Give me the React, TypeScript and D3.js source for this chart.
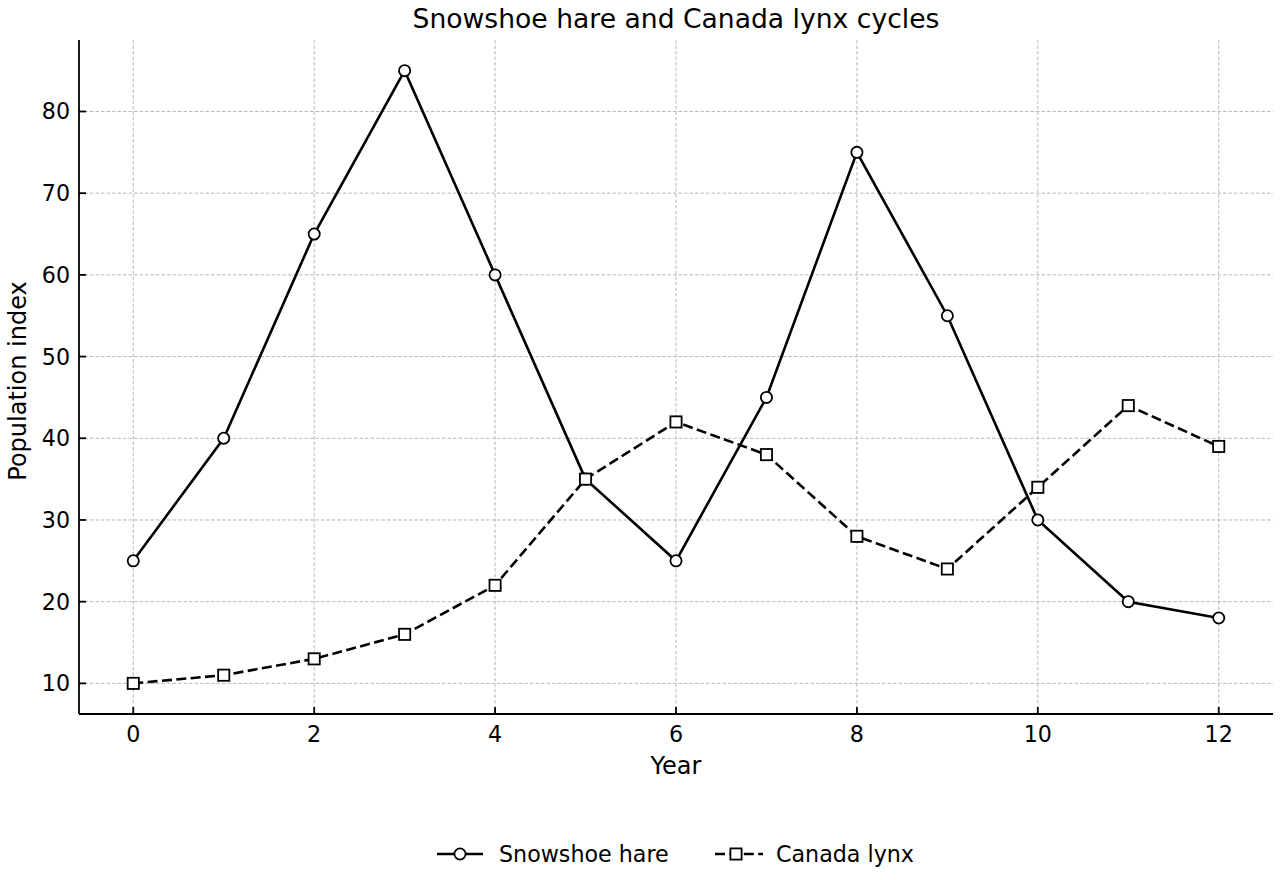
import { line, range, scaleLinear } from "d3"

const years = range(0, 13)
const hare = [25, 40, 65, 85, 60, 35, 25, 45, 75, 55, 30, 20, 18]
const lynx = [10, 11, 13, 16, 22, 35, 42, 38, 28, 24, 34, 44, 39]
const xTicks = [0, 2, 4, 6, 8, 10, 12]
const yTicks = [10, 20, 30, 40, 50, 60, 70, 80]

const W = 1280
const H = 880
const left = 79
const right = 1273
const top = 40
const bottom = 714
const font = "'DejaVu Sans', sans-serif"
const dash = "10,4.4"

const App = () => {
    const x = scaleLinear().domain([-0.6, 12.6]).range([left, right])
    const y = scaleLinear().domain([6.25, 88.75]).range([bottom, top])

    const path = (vals: number[]) =>
        line<number>().x((_, i) => x(years[i])).y(d => y(d))(vals) || ""

    return (
        <svg width={W} height={H} style={{ display: "block", position: "absolute", left: 0, top: 0 }}>
            <rect width={W} height={H} fill="white" />
            <g stroke="#b0b0b0" strokeWidth={0.9} strokeDasharray="3.5,2">
                {xTicks.map(t => <line key={"gx" + t} x1={x(t)} x2={x(t)} y1={top} y2={bottom} />)}
                {yTicks.map(t => <line key={"gy" + t} x1={left} x2={right} y1={y(t)} y2={y(t)} />)}
            </g>
            <path d={path(hare)} fill="none" stroke="black" strokeWidth={2.6} />
            <path d={path(lynx)} fill="none" stroke="black" strokeWidth={2.6} strokeDasharray={dash} />
            {hare.map((v, i) => (
                <circle key={"h" + i} cx={x(years[i])} cy={y(v)} r={5.6} fill="white" stroke="black" strokeWidth={1.8} />
            ))}
            {lynx.map((v, i) => (
                <rect key={"l" + i} x={x(years[i]) - 5.6} y={y(v) - 5.6} width={11.2} height={11.2} fill="white" stroke="black" strokeWidth={1.8} />
            ))}
            <line x1={left} x2={left} y1={top} y2={bottom} stroke="black" strokeWidth={1.8} />
            <line x1={left} x2={right} y1={bottom} y2={bottom} stroke="black" strokeWidth={1.8} />
            {xTicks.map(t => (
                <g key={"xt" + t}>
                    <line x1={x(t)} x2={x(t)} y1={bottom} y2={bottom - 7} stroke="black" strokeWidth={1.8} />
                    <text x={x(t)} y={bottom + 28} textAnchor="middle" fontFamily={font} fontSize={22.2}>{t}</text>
                </g>
            ))}
            {yTicks.map(t => (
                <g key={"yt" + t}>
                    <line x1={left} x2={left + 7} y1={y(t)} y2={y(t)} stroke="black" strokeWidth={1.8} />
                    <text x={left - 9} y={y(t) + 8} textAnchor="end" fontFamily={font} fontSize={22.2}>{t}</text>
                </g>
            ))}
            <text x={(left + right) / 2} y={28} textAnchor="middle" fontFamily={font} fontSize={26.6}>Snowshoe hare and Canada lynx cycles</text>
            <text x={(left + right) / 2} y={774} textAnchor="middle" fontFamily={font} fontSize={24}>Year</text>
            <text transform={`translate(26,${(top + bottom) / 2 + 4}) rotate(-90)`} textAnchor="middle" fontFamily={font} fontSize={24}>Population index</text>
            <g>
                <line x1={437} x2={483} y1={854} y2={854} stroke="black" strokeWidth={2.6} />
                <circle cx={460} cy={854} r={5.6} fill="white" stroke="black" strokeWidth={1.8} />
                <text x={499} y={862} fontFamily={font} fontSize={22.2}>Snowshoe hare</text>
                <line x1={715} x2={763} y1={854} y2={854} stroke="black" strokeWidth={2.6} strokeDasharray={dash} />
                <rect x={730.4} y={848.4} width={11.2} height={11.2} fill="white" stroke="black" strokeWidth={1.8} />
                <text x={776} y={862} fontFamily={font} fontSize={22.2}>Canada lynx</text>
            </g>
        </svg>
    )
}

export default App
